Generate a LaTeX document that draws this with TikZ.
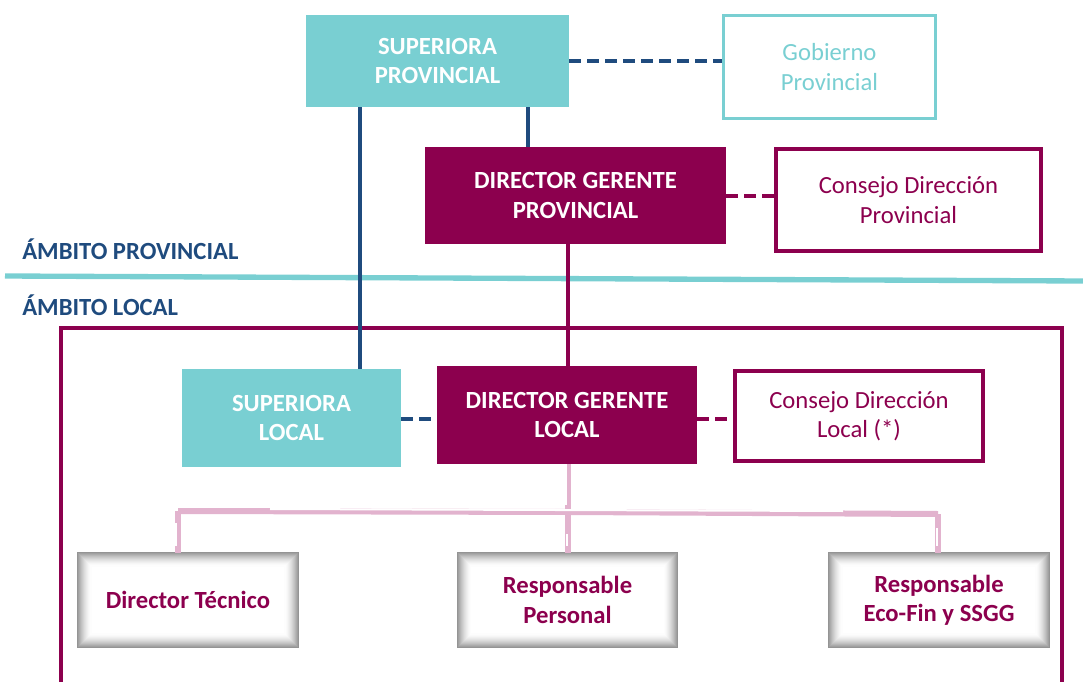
\documentclass[tikz,border=0pt]{standalone}
\usepackage{fontspec}
\setmainfont{Carlito}
\definecolor{teal1}{HTML}{79CFD2}
\definecolor{maroon1}{HTML}{8C004E}
\definecolor{navy1}{HTML}{1F4B7E}
\definecolor{pink1}{HTML}{E2B3CE}
\newcommand\labfont{\fontsize{18.5}{22}\selectfont}
\tikzset{
  lab/.style={font=\labfont, align=center, inner sep=0pt},
  solidteal/.style={lab, fill=teal1, text=white, font=\bfseries\labfont},
  solidmar/.style={lab, fill=maroon1, text=white, font=\bfseries\labfont},
  outteal/.style={lab, draw=teal1, line width=2.25pt, text=teal1},
  outmar/.style={lab, draw=maroon1, line width=3pt, text=maroon1},
  botbox/.style={lab, text=maroon1, font=\bfseries\labfont, minimum width=165pt, minimum height=70.5pt},
  navyline/.style={navy1, line width=3pt},
  marline/.style={maroon1, line width=3pt},
  navydash/.style={navy1, line width=3pt, dash pattern=on 9pt off 4.5pt},
  mardash/.style={maroon1, line width=3pt, dash pattern=on 9pt off 4.5pt},
  ambito/.style={text=navy1, font=\bfseries\labfont, anchor=west, inner sep=0pt},
  pinkl/.style={pink1, line width=4.5pt},
  whitel/.style={white, line width=1.5pt},
}
\begin{document}
\begin{tikzpicture}[x=0.75pt, y=-0.75pt]
\useasboundingbox (0,0) rectangle (1083,682);
% frame
\draw[maroon1, line width=2.5pt] (61,682) -- (61,328) -- (1062,328) -- (1062,682);
% separator
\draw[teal1, line width=4pt] (5,276) -- (1083,281);
\node[ambito] (ap) at (22,249) {ÁMBITO PROVINCIAL};
\node[ambito] (al) at (22,305) {ÁMBITO LOCAL};
% nodes
\node[solidteal, minimum width=197.25pt, minimum height=69pt] (sp) at (437.5,61) {SUPERIORA\\PROVINCIAL};
\node[outteal, minimum width=159pt, minimum height=77pt] (gp) at (829.5,67) {Gobierno\\Provincial};
\node[solidmar, minimum width=225.75pt, minimum height=72.75pt] (dgp) at (575.5,195.5) {DIRECTOR GERENTE\\PROVINCIAL};
\node[outmar, minimum width=199pt, minimum height=76.5pt] (cp) at (908.5,200) {Consejo Dirección\\Provincial};
\node[solidteal, minimum width=164.25pt, minimum height=73.5pt] (sl) at (291.5,418) {SUPERIORA\\LOCAL};
\node[solidmar, minimum width=195pt, minimum height=73.5pt] (dgl) at (567,415) {DIRECTOR GERENTE\\LOCAL};
\node[outmar, minimum width=186pt, minimum height=67.5pt] (cl) at (859,416) {Consejo Dirección\\Local (*)};
% bottom boxes with inner shadow
\foreach \cx/\nm in {188/dt,567.5/rp,939/re}{
  \foreach \i in {0,...,13}{
    \pgfmathsetmacro\g{42*(1-\i/14)^1.6}
    \draw[black!\g, line width=0.9pt] (\cx-110+\i,553+\i) rectangle (\cx+110-\i,647-\i);
  }
}
\node[botbox] (dt) at (188,600) {Director Técnico};
\node[botbox] (rp) at (567.5,600) {Responsable\\Personal};
\node[botbox] (re) at (939,600) {Responsable\\Eco-Fin y SSGG};
% connectors
\draw[navydash] (sp.east |- 0,61) -- (gp.west |- 0,61);
\draw[mardash] (dgp.east |- 0,196) -- (cp.west |- 0,196);
\draw[navydash] (sl.east |- 0,419) -- (dgl.west |- 0,419);
\draw[mardash] (dgl.east |- 0,419) -- (cl.west |- 0,419);
\draw[navyline] (sp.south -| 360,0) -- (sl.north -| 360,0);
\draw[navyline] (sp.south -| 528,0) -- (dgp.north -| 528,0);
\draw[marline] (dgp.south -| 568,0) -- (dgl.north -| 568,0);
% pink tree
\coordinate (j0) at (568,512);
\coordinate (jl) at (178,511);
\coordinate (jr) at (938,514);
\draw[pinkl] (dgl.south -| 568,0) -- (j0);
\draw[pinkl] (jl) -- (j0) -- (jr);
\draw[pinkl] (jl) -- (dt.north -| 178,0);
\draw[pinkl] (j0) -- (rp.north -| 568,0);
\draw[pinkl] (jr) -- (re.north -| 938,0);
\draw[whitel] (270,509) -- (843,511);
\draw[whitel] (dgl.south -| 566,0) -- (566,505);
\draw[whitel] (176,523) -- (176,546);
\draw[whitel] (567,534) -- (567,546);
\draw[whitel] (937,528) -- (937,546);
\end{tikzpicture}
\end{document}
